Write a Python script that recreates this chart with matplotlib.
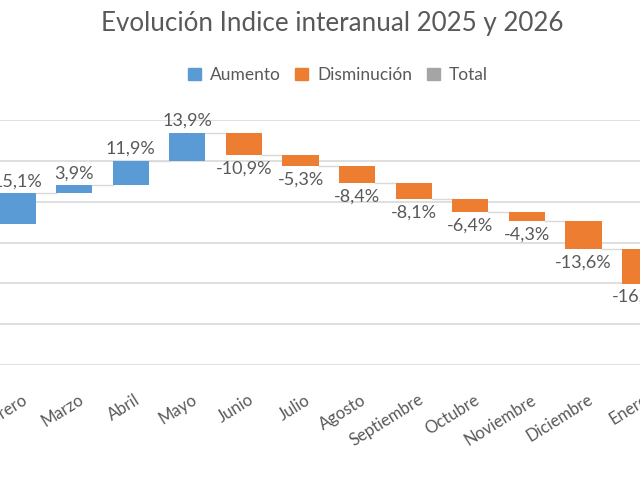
import matplotlib; matplotlib.use('Agg')
import matplotlib.pyplot as plt
import matplotlib.patches as mpatches
import matplotlib.transforms as mtransforms
import numpy as np

plt.rcParams['font.family'] = ['Lato', 'DejaVu Sans']

# datos (variacion mensual en %)
meses = ['Febrero', 'Marzo', 'Abril', 'Mayo', 'Junio', 'Julio', 'Agosto',
         'Septiembre', 'Octubre', 'Noviembre', 'Diciembre', 'Enero']
variaciones = [15.1, 3.9, 11.9, 13.9, -10.9, -5.3, -8.4, -8.1, -6.4, -4.3, -13.6, -16.9]
nivel_inicial = 69.0
etiquetas = ['15,1%', '3,9%', '11,9%', '13,9%', '-10,9%', '-5,3%', '-8,4%',
             '-8,1%', '-6,4%', '-4,3%', '-13,6%', '-16,9%']

AZUL = '#5B9BD5'
NARANJA = '#ED7D31'
GRIS = '#A5A5A5'
TXT = '#595959'
REJILLA = '#D9D9D9'

fig = plt.figure(figsize=(6.4, 4.8), dpi=100)
fig.patch.set_facecolor('white')
# el grafico original esta recortado: los ejes se salen por ambos lados
ax = fig.add_axes([0, 1 - 365/480, 1, 245/480])

x = np.arange(len(meses))
var = np.array(variaciones)
fin = nivel_inicial + np.cumsum(var)
ini = fin - var
ancho = 0.64

colores = [AZUL if v > 0 else NARANJA for v in var]
ax.bar(x, var, bottom=ini, width=ancho, color=colores, zorder=3)

# conectores
for i in range(len(x) - 1):
    ax.plot([x[i] + ancho/2, x[i+1] - ancho/2], [fin[i], fin[i]],
            color=REJILLA, lw=1, zorder=2)

for i, v in enumerate(var):
    if v > 0:
        ax.annotate(etiquetas[i], (x[i], fin[i]), xytext=(0, 3), textcoords='offset points',
                    ha='center', va='bottom', fontsize=13, color=TXT, zorder=4)
    else:
        ax.annotate(etiquetas[i], (x[i], fin[i]), xytext=(0, -4), textcoords='offset points',
                    ha='center', va='top', fontsize=13, color=TXT, zorder=4)

paso = 57.8
ax.set_xlim(-18/paso, -18/paso + 640/paso)
ax.set_ylim(0, 120)
ax.set_yticks(np.arange(0, 121, 20))
ax.yaxis.grid(True, color=REJILLA, lw=1.2, zorder=0)
ax.set_yticklabels([])
ax.tick_params(length=0)
for s in ax.spines.values():
    s.set_visible(False)
ax.set_xticks(x)
ax.set_xticklabels(meses, rotation=32, ha='right', va='center',
                   rotation_mode='anchor', fontsize=12, color=TXT)
ax.tick_params(axis='x', pad=24)
desplaza = mtransforms.ScaledTranslation(8/100, 0, fig.dpi_scale_trans)
for t in ax.get_xticklabels():
    t.set_transform(t.get_transform() + desplaza)

fig.text(332/640, 1 - 23/480, 'Evolución Indice interanual 2025 y 2026',
         ha='center', va='center', fontsize=18.7, color=TXT)

handles = [mpatches.Patch(color=AZUL, label='Aumento'),
           mpatches.Patch(color=NARANJA, label='Disminución'),
           mpatches.Patch(color=GRIS, label='Total')]
leg = fig.legend(handles=handles, loc='center', bbox_to_anchor=(338/640, 1 - 75/480),
                 ncol=3, frameon=False, fontsize=12.5, handlelength=0.75, handleheight=0.75,
                 handletextpad=0.55, columnspacing=0.8)
for t in leg.get_texts():
    t.set_color(TXT)

plt.savefig('out.png', dpi=100, facecolor='white')
